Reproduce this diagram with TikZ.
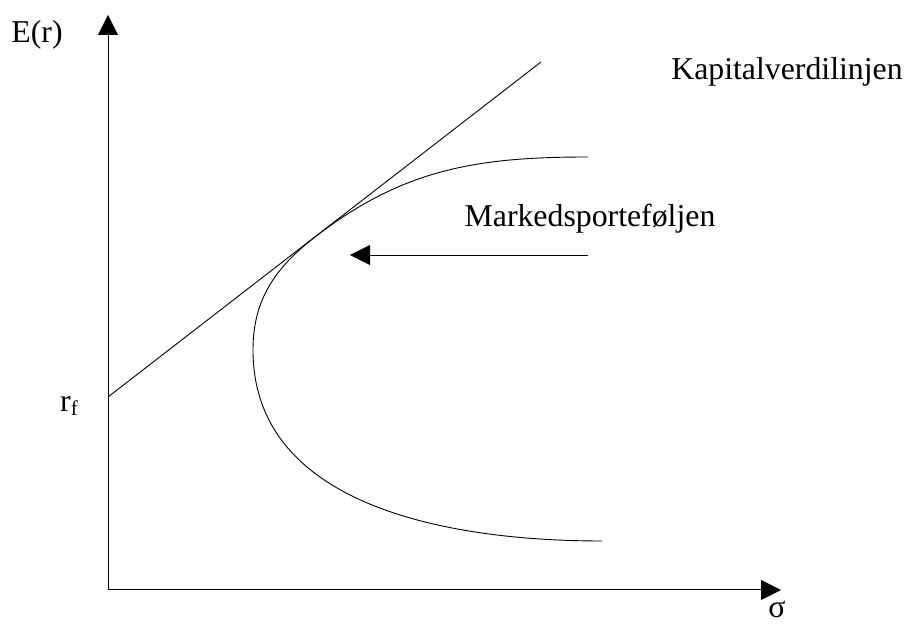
\documentclass[tikz,border=0pt]{standalone}
\usepackage{fontspec}
\setmainfont{Liberation Serif}
\usetikzlibrary{arrows.meta}

\tikzset{
  axis/.style={line width=1pt,-{Triangle[length=20pt,width=20pt]}},
  curve/.style={line width=0.9pt},
  lbl/.style={inner sep=0pt,anchor=base,font=\fontsize{31.8}{38}\selectfont}
}

\begin{document}
\begin{tikzpicture}[x=1pt,y=1pt]
  \useasboundingbox (0,0) rectangle (906,626);
  % axes
  \coordinate (O) at (108,36);
  \coordinate (ytip) at (108,611);
  \coordinate (xtip) at (781,36);
  \draw[axis] (O) -- (ytip);
  \draw[axis] (O) -- (xtip);
  % capital market line
  \coordinate (rf) at (108,229);
  \coordinate (cmlend) at (541,564);
  \draw[curve] (rf) -- (cmlend);
  % efficient frontier
  \coordinate (ftop) at (588,469);
  \coordinate (tang) at (315,389);
  \coordinate (fleft) at (253,276);
  \coordinate (fbot) at (602,85);
  \draw[curve] (ftop) to[out=180,in=37.7] (tang)
    to[out=217.7,in=90] (fleft)
    to[out=-90,in=180] (fbot);
  % pointer to market portfolio
  \coordinate (pstart) at (588,371);
  \coordinate (pend) at (350,371);
  \draw[curve,-{Triangle[length=20pt,width=20pt]}] (pstart) -- (pend);
  % labels
  \node[lbl] (Er) at (37,583) {E(r)};
  \node[lbl,anchor=base west] (rflbl) at (60,214)
    {r\raisebox{-0.12em}{\fontsize{21}{24}\selectfont f}};
  \node[lbl] (sigma) at (777,8) {σ};
  \node[lbl] (kvl) at (787,546) {Kapitalverdilinjen};
  \node[lbl] (mp) at (590,399) {Markedsporteføljen};
\end{tikzpicture}
\end{document}
